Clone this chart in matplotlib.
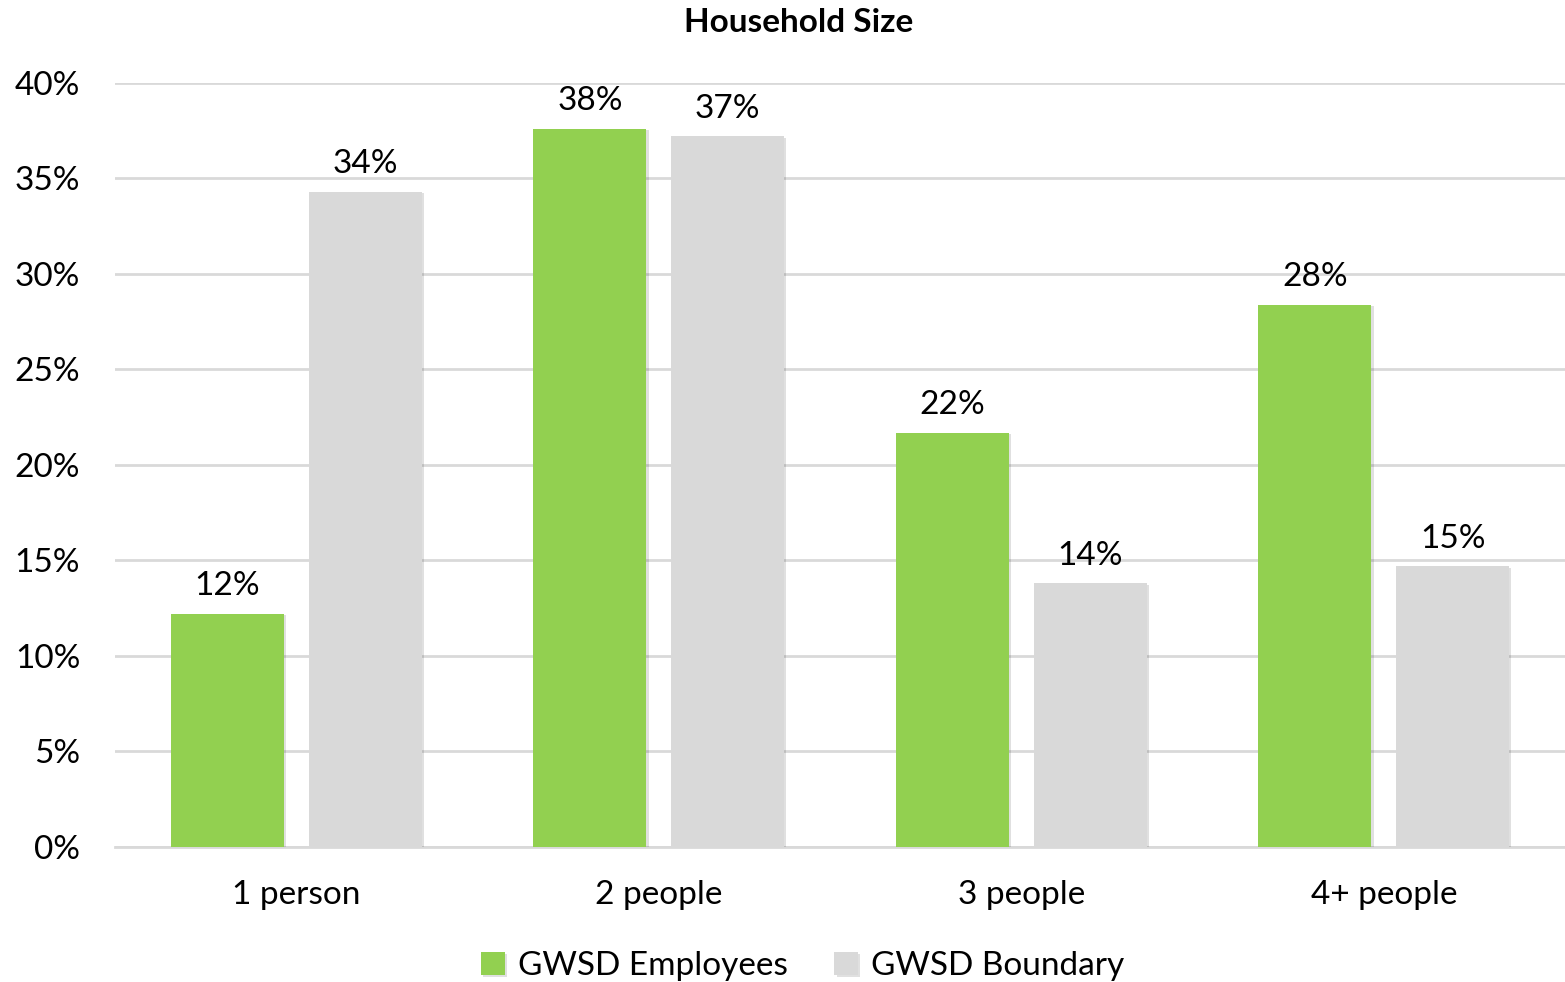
import numpy as np
import matplotlib.pyplot as plt
import matplotlib.patheffects as pe

# Household size shares (fraction of households)
categories = ["1 person", "2 people", "3 people", "4+ people"]
employees = [12.2, 37.6, 21.7, 28.4]
boundary = [34.3, 37.2, 13.8, 14.7]
series_names = ["GWSD Employees", "GWSD Boundary"]
y_ticks = [0, 5, 10, 15, 20, 25, 30, 35, 40]

GREEN = "#92D050"
GRAY = "#D9D9D9"
GRID = "#D9D9D9"

plt.rcParams['font.family'] = ['Lato', 'DejaVu Sans']

fig = plt.figure(figsize=(15.65, 9.82), dpi=100)
ax = fig.add_axes([0.0735, 0.1375, 0.9265, 0.778])

x = np.arange(len(categories))
width = 0.312
offset = 0.19

shadow = [pe.SimplePatchShadow(offset=(1.5, -1), shadow_rgbFace="#000000", alpha=0.12), pe.Normal()]
b1 = ax.bar(x - offset, employees, width, color=GREEN, label=series_names[0], zorder=3)
b2 = ax.bar(x + offset, boundary, width, color=GRAY, label=series_names[1], zorder=3)
for bar in list(b1) + list(b2):
    bar.set_path_effects(shadow)

# value labels above each bar
for bars, vals in [(b1, employees), (b2, boundary)]:
    for bar, v in zip(bars, vals):
        ax.annotate(f"{round(v):.0f}%", (bar.get_x() + bar.get_width() / 2, v),
                    xytext=(0, 9), textcoords="offset points",
                    ha="center", va="bottom", fontsize=24, color="black")

ax.set_xlim(-0.5, 3.5)
ax.set_ylim(0, 40)
ax.set_yticks(y_ticks)
ax.set_yticklabels([f"{t}%" for t in y_ticks])
ax.set_xticks(x)
ax.set_xticklabels(categories)
ax.tick_params(axis="both", length=0, labelsize=24, colors="black")
ax.tick_params(axis="y", pad=25)
ax.tick_params(axis="x", pad=24)

ax.yaxis.grid(True, color=GRID, linewidth=2, zorder=0)
ax.set_axisbelow(True)
for side in ["top", "right", "left"]:
    ax.spines[side].set_visible(False)
ax.spines["bottom"].set_color(GRID)
ax.spines["bottom"].set_linewidth(2)

fig.text(0.51, 0.977, "Household Size", ha="center", va="center",
         fontsize=24, fontweight="bold")

fig.legend(loc="lower center", bbox_to_anchor=(0.513, -0.03), ncol=2, frameon=False,
           fontsize=24, handlelength=0.7, handleheight=0.7, columnspacing=1.4,
           handletextpad=0.4)

fig.savefig("out.png", dpi=100)
